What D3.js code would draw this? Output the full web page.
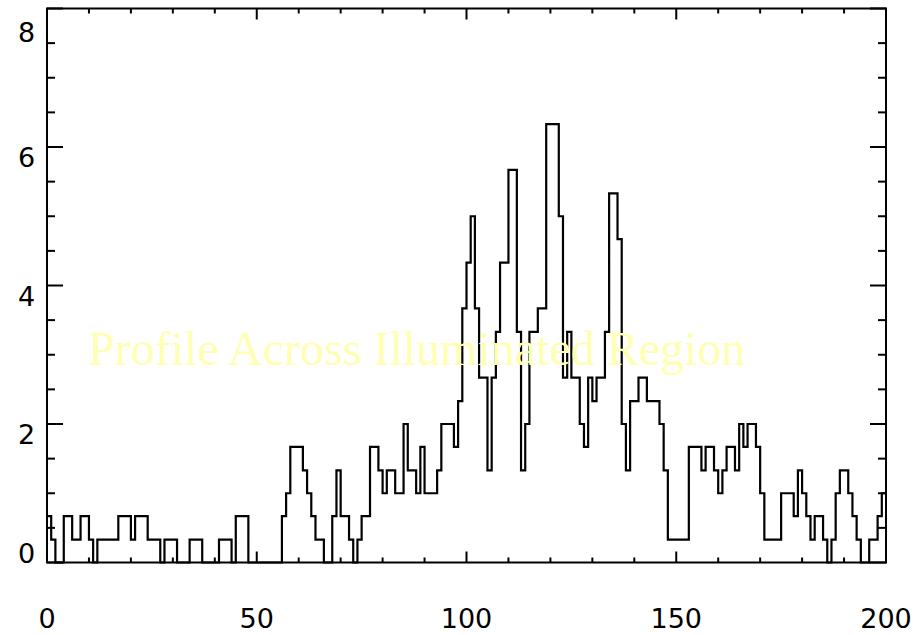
<!DOCTYPE html>
<html>
<head>
<meta charset="utf-8">
<script src="https://cdn.jsdelivr.net/npm/d3@7"></script>
<style>
  body { margin: 0; background: #fff; }
  svg { display: block; }
</style>
</head>
<body>
<div id="chart"></div>
<script>
// profile values, one per bin (bin i covers x = i .. i+1)
var profile = [
  0.67, 0.33, 0, 0, 0.67, 0.67, 0.33, 0.33, 0.67, 0.67,
  0.33, 0, 0.33, 0.33, 0.33, 0.33, 0.33, 0.67, 0.67, 0.67,
  0.33, 0.67, 0.67, 0.67, 0.33, 0.33, 0.33, 0, 0.33, 0.33,
  0.33, 0, 0, 0, 0.33, 0.33, 0.33, 0, 0, 0,
  0, 0.33, 0.33, 0.33, 0, 0.67, 0.67, 0.67, 0, 0,
  0, 0, 0, 0, 0, 0, 0.67, 1.0, 1.67, 1.67,
  1.67, 1.33, 1.0, 0.67, 0.33, 0.33, 0, 0, 0.67, 1.33,
  0.67, 0.67, 0.33, 0, 0.33, 0.67, 0.67, 1.67, 1.67, 1.33,
  1.0, 1.33, 1.33, 1.0, 1.0, 2.0, 1.33, 1.33, 1.0, 1.67,
  1.0, 1.0, 1.0, 1.33, 2.0, 2.0, 2.0, 1.67, 2.33, 3.67,
  4.33, 5.0, 3.67, 2.67, 2.67, 1.33, 2.67, 3.33, 4.33, 4.33,
  5.67, 5.67, 3.33, 1.33, 2.0, 3.33, 3.33, 3.67, 3.67, 6.33,
  6.33, 6.33, 5.0, 2.67, 3.33, 2.67, 2.67, 2.0, 1.67, 2.67,
  2.33, 2.67, 2.67, 3.33, 5.33, 5.33, 4.67, 2.0, 1.33, 2.33,
  2.33, 2.67, 2.67, 2.33, 2.33, 2.33, 2.0, 1.33, 0.33, 0.33,
  0.33, 0.33, 0.33, 1.67, 1.67, 1.67, 1.33, 1.67, 1.67, 1.33,
  1.0, 1.33, 1.67, 1.67, 1.33, 2.0, 1.67, 2.0, 2.0, 1.67,
  1.0, 0.33, 0.33, 0.33, 0.33, 1.0, 1.0, 1.0, 0.67, 1.33,
  1.0, 0.67, 0.33, 0.67, 0.67, 0.33, 0, 0.33, 1.0, 1.33,
  1.33, 1.0, 0.67, 0.33, 0, 0, 0.33, 0.33, 0.67, 1.0
];

var xTicks = [0, 50, 100, 150, 200];
var yTicks = [0, 2, 4, 6, 8];
var title = "Profile Across Illuminated Region";

var W = 921, H = 635;
var margin = {top: 8.5, right: 35, bottom: 72.5, left: 47};

var svg = d3.select("#chart").append("svg")
  .attr("width", W)
  .attr("height", H);

var x = d3.scaleLinear().domain([0, 200]).range([margin.left, W - margin.right]);
var y = d3.scaleLinear().domain([0, 8]).range([H - margin.bottom, margin.top]);

// step points: one per bin start plus the closing edge
var pts = profile.map(function(v, i) { return [i, v]; });
pts.push([profile.length, profile[profile.length - 1]]);

var line = d3.line()
  .x(function(d) { return x(d[0]); })
  .y(function(d) { return y(d[1]); })
  .curve(d3.curveStepAfter);

svg.append("path")
  .datum(pts)
  .attr("d", line)
  .attr("fill", "none")
  .attr("stroke", "#000")
  .attr("stroke-width", 2.2);

// title drawn in pale yellow over the plot
svg.append("text")
  .attr("x", x(9.8))
  .attr("y", y(2.85))
  .attr("font-family", "'Liberation Serif', 'Times New Roman', serif")
  .attr("font-size", 48)
  .attr("fill", "#ffffb4")
  .text(title);

// inward ticks on all four sides
var xMinor = d3.range(0, 201, 10);
var yMinor = d3.range(0, 8.01, 0.5);

var ax = svg.append("g");

xMinor.forEach(function(v) {
  var len = (v % 50 === 0) ? 11 : 5;
  ax.append("line").attr("x1", x(v)).attr("x2", x(v))
    .attr("y1", y(0)).attr("y2", y(0) - len);
  ax.append("line").attr("x1", x(v)).attr("x2", x(v))
    .attr("y1", y(8)).attr("y2", y(8) + len);
});
yMinor.forEach(function(v) {
  var len = (v % 2 === 0) ? 16 : 8;
  ax.append("line").attr("y1", y(v)).attr("y2", y(v))
    .attr("x1", x(0)).attr("x2", x(0) + len);
  ax.append("line").attr("y1", y(v)).attr("y2", y(v))
    .attr("x1", x(200)).attr("x2", x(200) - len);
});
ax.selectAll("line").attr("stroke", "#000").attr("stroke-width", 2);

svg.append("rect")
  .attr("x", x(0)).attr("y", y(8))
  .attr("width", x(200) - x(0)).attr("height", y(0) - y(8))
  .attr("fill", "none").attr("stroke", "#000").attr("stroke-width", 2);

var labelFont = "'DejaVu Sans', sans-serif";

svg.append("g").selectAll("text")
  .data(xTicks).enter().append("text")
  .attr("x", function(d) { return x(d); })
  .attr("y", y(0) + 65)
  .attr("text-anchor", "middle")
  .attr("font-family", labelFont)
  .attr("font-size", 27)
  .attr("fill", "#000")
  .text(function(d) { return d; });

svg.append("g").selectAll("text")
  .data(yTicks).enter().append("text")
  .attr("x", 26.5)
  .attr("y", function(d) { return y(d) + (d === 0 ? 0 : (d === 8 ? 33 : 20)); })
  .attr("text-anchor", "middle")
  .attr("font-family", labelFont)
  .attr("font-size", 27)
  .attr("fill", "#000")
  .text(function(d) { return d; });
</script>
</body>
</html>
